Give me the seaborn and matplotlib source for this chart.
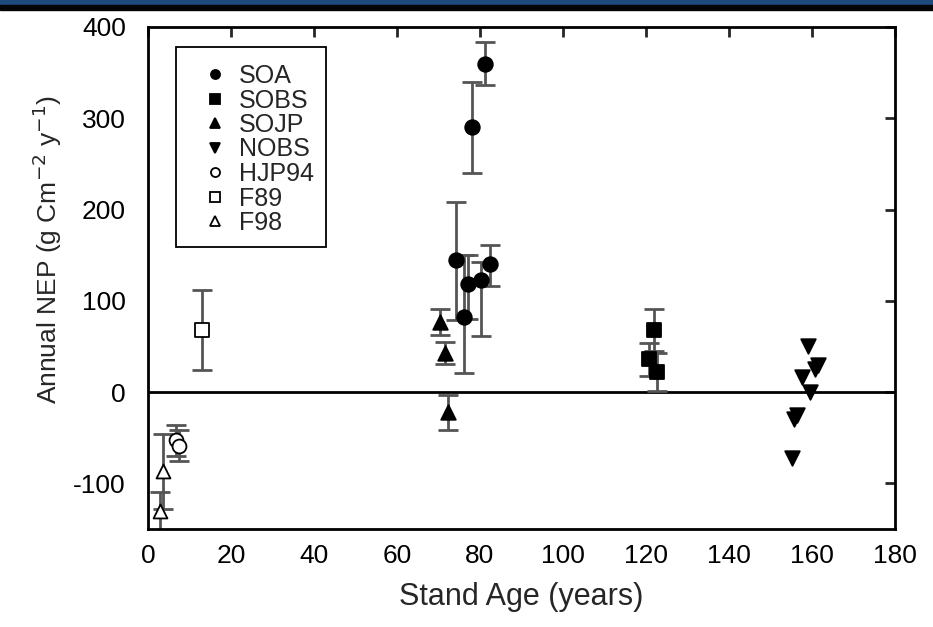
import matplotlib
matplotlib.use("Agg")
import matplotlib.pyplot as plt
import matplotlib.patches as mpatches
import seaborn as sns
import pandas as pd
import numpy as np

# ---- data ----
soa_x = [81.3, 78.0, 74.2, 76.1, 77.2, 80.2, 82.3]
soa_y = [360, 290, 145, 82, 118, 123, 140]
soa_err_lo = [23, 50, 66, 61, 38, 61, 24]
soa_err_hi = [24, 50, 63, 68, 32, 20, 21]

sobs_x = [121.9, 120.8, 122.7]
sobs_y = [68, 36, 22]
sobs_err = [23, 18, 21]

sojp_x = [70.4, 71.6, 72.3]
sojp_y = [77, 43, -22]
sojp_err = [14, 12, 19]

nobs_x = [159.1, 161.5, 160.7, 157.5, 159.5, 156.3, 155.6, 155.1]
nobs_y = [50, 30, 25, 17, 0, -25, -30, -72]

hjp_x = [6.8, 7.4]
hjp_y = [-53, -59]
hjp_err = [17, 17]

f89_x = [13.0]
f89_y = [68]
f89_err = [44]

f98_x = [3.6, 3.0]
f98_y = [-87, -130]
f98_err = [41, 21]

xticks = [0, 20, 40, 60, 80, 100, 120, 140, 160, 180]
yticks = [-100, 0, 100, 200, 300, 400]

sns.set_theme(style="white")
plt.rcParams['font.family'] = ['Liberation Sans', 'DejaVu Sans']
plt.rcParams['axes.unicode_minus'] = False

fig = plt.figure(figsize=(9.33, 6.27), dpi=100)
# header band
fig.patches.append(mpatches.Rectangle((0, 1 - 5/627), 1, 5/627, transform=fig.transFigure,
                                      color='#1f4a7e', zorder=0))
fig.patches.append(mpatches.Rectangle((0, 1 - 10/627), 1, 5/627, transform=fig.transFigure,
                                      color='#050505', zorder=0))
ax = fig.add_axes([148/933, 1 - 529/627, (895 - 148)/933, (529 - 27)/627])

ax.axhline(0, color='black', lw=2, zorder=1)

ecol = '#555555'
ekw = dict(fmt='none', ecolor=ecol, elinewidth=2, capsize=7, capthick=2, zorder=2)
ax.errorbar(soa_x, soa_y, yerr=[soa_err_lo, soa_err_hi], **ekw)
ax.errorbar(sobs_x, sobs_y, yerr=sobs_err, **ekw)
ax.errorbar(sojp_x, sojp_y, yerr=sojp_err, **ekw)
ax.errorbar(hjp_x, hjp_y, yerr=hjp_err, **ekw)
ax.errorbar(f89_x, f89_y, yerr=f89_err, **ekw)
ax.errorbar(f98_x, f98_y, yerr=f98_err, **ekw)

groups = [
    ("SOA", soa_x, soa_y, 'o', 'black', 110),
    ("SOBS", sobs_x, sobs_y, 's', 'black', 95),
    ("SOJP", sojp_x, sojp_y, '^', 'black', 110),
    ("NOBS", nobs_x, nobs_y, 'v', 'black', 110),
    ("HJP94", hjp_x, hjp_y, 'o', 'white', 100),
    ("F89", f89_x, f89_y, 's', 'white', 95),
    ("F98", f98_x, f98_y, '^', 'white', 100),
]
handles = []
for name, xs, ys, m, fc, s in groups:
    df = pd.DataFrame({"x": xs, "y": ys})
    sns.scatterplot(data=df, x="x", y="y", marker=m, s=s, color=fc, edgecolor='black',
                    linewidth=1.3, ax=ax, zorder=3, legend=False)
    handles.append(plt.Line2D([], [], ls='none', marker=m, markersize=6.5,
                              markerfacecolor=fc, markeredgecolor='black',
                              markeredgewidth=1.3, label=name))

# legend frame drawn separately
ax.add_patch(mpatches.Rectangle((28/747, 1 - 220/502), 150/747, 200/502,
                                transform=ax.transAxes, facecolor='white',
                                edgecolor='black', lw=1.3, zorder=4))
leg = ax.legend(handles=handles, loc='upper left', bbox_to_anchor=(54.5/747, 1 - 37/502),
                fontsize=18, frameon=False, handletextpad=0.46, labelspacing=0.02,
                borderpad=0, handlelength=1.0, borderaxespad=0)
leg.set_zorder(5)

ax.set_xlim(0, 180)
ax.set_ylim(-150, 400)
ax.set_xticks(xticks)
ax.set_yticks(yticks)
ax.set_xlabel("Stand Age (years)", fontsize=22, labelpad=10)
ax.set_ylabel("Annual NEP (g Cm$^{-2}$ y$^{-1}$)", fontsize=19)
ax.yaxis.set_label_coords(-0.113, 0.556)
for sp in ax.spines.values():
    sp.set_visible(True)
    sp.set_color('black')
    sp.set_linewidth(2)
ax.tick_params(axis='both', which='both', direction='out', length=7, width=2,
               labelsize=19, colors='black', top=False, right=False, pad=4)
ax.tick_params(axis='y', pad=9)
# inward ticks on top and right
sec_x = ax.secondary_xaxis('top')
sec_x.set_xticks(xticks)
sec_x.tick_params(direction='in', length=7, width=2, labeltop=False)
sec_x.spines['top'].set_visible(False)
sec_y = ax.secondary_yaxis('right')
sec_y.set_yticks(yticks)
sec_y.tick_params(direction='in', length=7, width=2, labelright=False)
sec_y.spines['right'].set_visible(False)
ax.grid(False)

fig.savefig("out.png", dpi=100)
